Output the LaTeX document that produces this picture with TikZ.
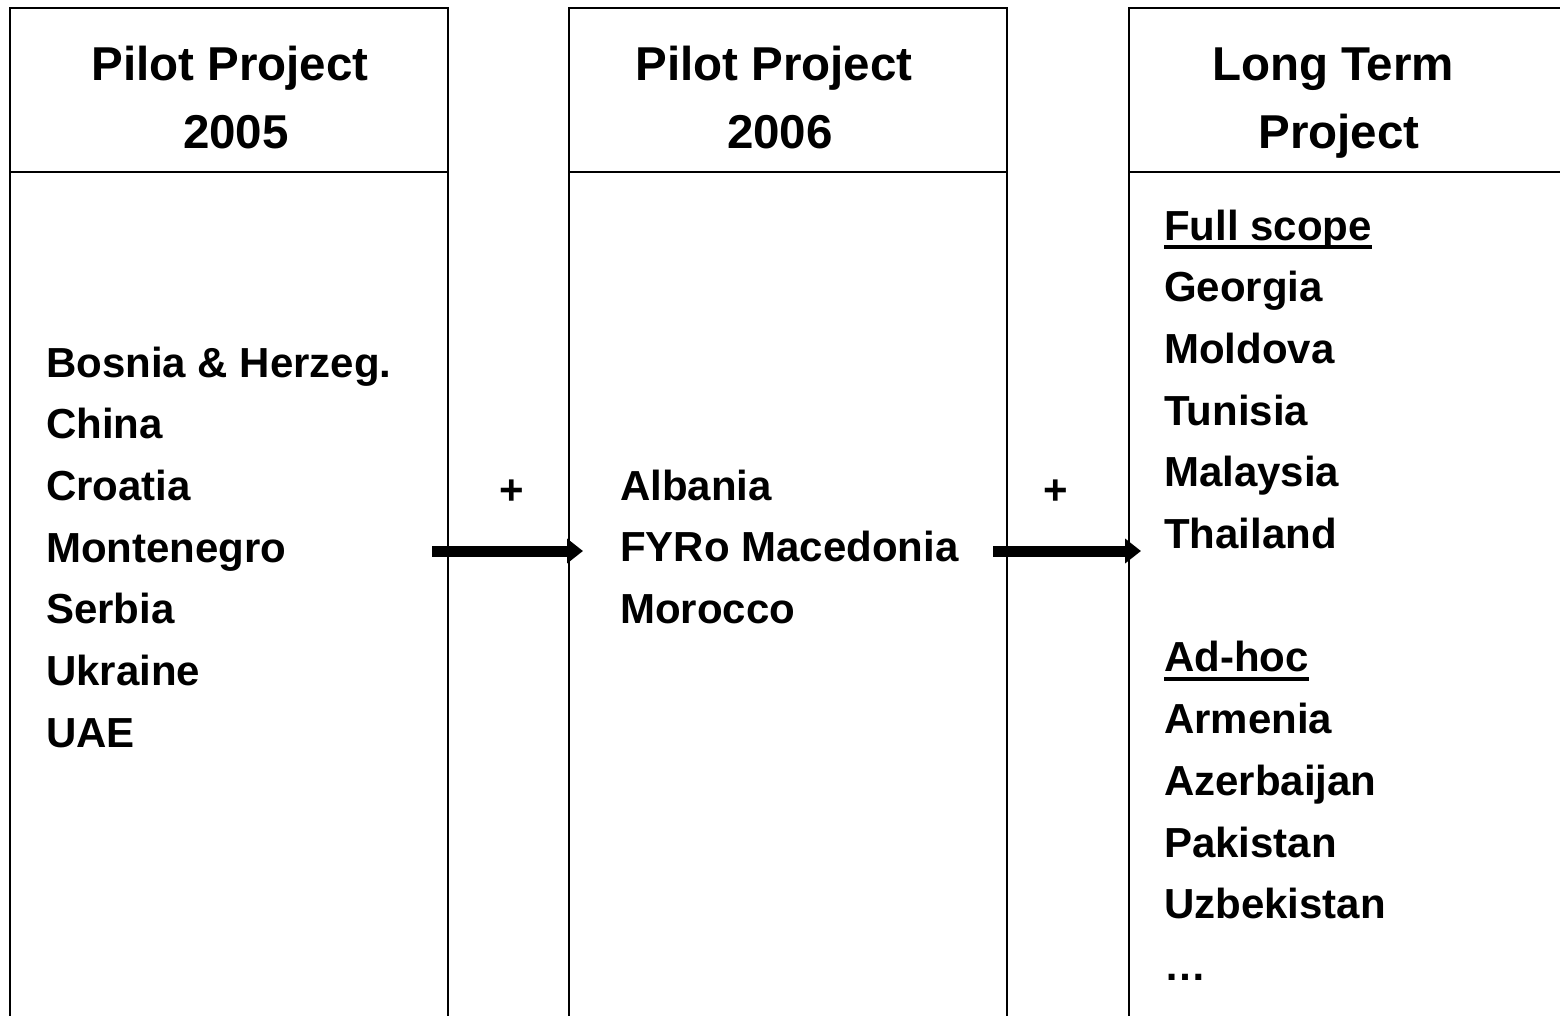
\documentclass[tikz,border=0pt]{standalone}
\usepackage{fontspec}
\setmainfont{Liberation Sans}
\usetikzlibrary{arrows.meta}
\begin{document}
\begin{tikzpicture}[x=1pt,y=-1pt,
  frame/.style={line width=2pt,draw=black},
  head/.style={font=\fontsize{47.5}{57}\selectfont\bfseries,inner sep=0pt,anchor=base},
  item/.style={font=\fontsize{42}{50}\selectfont\bfseries,inner sep=0pt,anchor=base west},
  plus/.style={font=\fontsize{42}{50}\selectfont\bfseries,inner sep=0pt},
  uline/.style={line width=3.5pt},
  bigarrow/.style={line width=11pt,-{Triangle[length=16pt,width=24pt]}}]
\useasboundingbox (0,0) rectangle (1560,1015);
% column frames (open at bottom)
\draw[frame] (10,1016) -- (10,8) -- (448,8) -- (448,1016);
\draw[frame] (10,172) -- (448,172);
\draw[frame] (569,1016) -- (569,8) -- (1007,8) -- (1007,1016);
\draw[frame] (569,172) -- (1007,172);
\draw[frame] (1129,1016) -- (1129,8) -- (1561,8);
\draw[frame] (1129,172) -- (1561,172);
% headers
\node[head] (h1a) at (230,80) {Pilot Project};
\node[head] (h1b) at (236,148) {2005};
\node[head] (h2a) at (774,80) {Pilot Project};
\node[head] (h2b) at (780,148) {2006};
\node[head] (h3a) at (1333,80) {Long Term};
\node[head] (h3b) at (1339,148) {Project};
% column 1
\foreach \t [count=\i from 0] in {Bosnia \& Herzeg.,China,Croatia,Montenegro,Serbia,Ukraine,UAE}
  \node[item] (c1-\i) at (46,377+61.7*\i) {\t};
% column 2
\foreach \t [count=\i from 0] in {Albania,FYRo Macedonia,Morocco}
  \node[item] (c2-\i) at (620,500+61.7*\i) {\t};
% column 3
\node[item] (c3-0) at (1164,240) {Full scope};
\foreach \t [count=\i from 1] in {Georgia,Moldova,Tunisia,Malaysia,Thailand}
  \node[item] (c3-\i) at (1164,240+61.7*\i) {\t};
\node[item] (c3-7) at (1164,240+61.7*7) {Ad-hoc};
\foreach \t [count=\i from 8] in {Armenia,Azerbaijan,Pakistan,Uzbekistan,…}
  \node[item] (c3-\i) at (1164,240+61.7*\i) {\t};
\draw[uline] ([yshift=-7pt]c3-0.base west) -- ([yshift=-7pt]c3-0.base east);
\draw[uline] ([yshift=-7pt]c3-7.base west) -- ([yshift=-7pt]c3-7.base east);
% plus signs
\node[plus] (p1) at (512,492) {+};
\node[plus] (p2) at (1056,492) {+};
% arrows
\coordinate (a1s) at (432,551);
\coordinate (a1e) at (583,551);
\coordinate (a2s) at (993,551);
\coordinate (a2e) at (1141,551);
\draw[bigarrow] (a1s) -- (a1e);
\draw[bigarrow] (a2s) -- (a2e);
\end{tikzpicture}
\end{document}
